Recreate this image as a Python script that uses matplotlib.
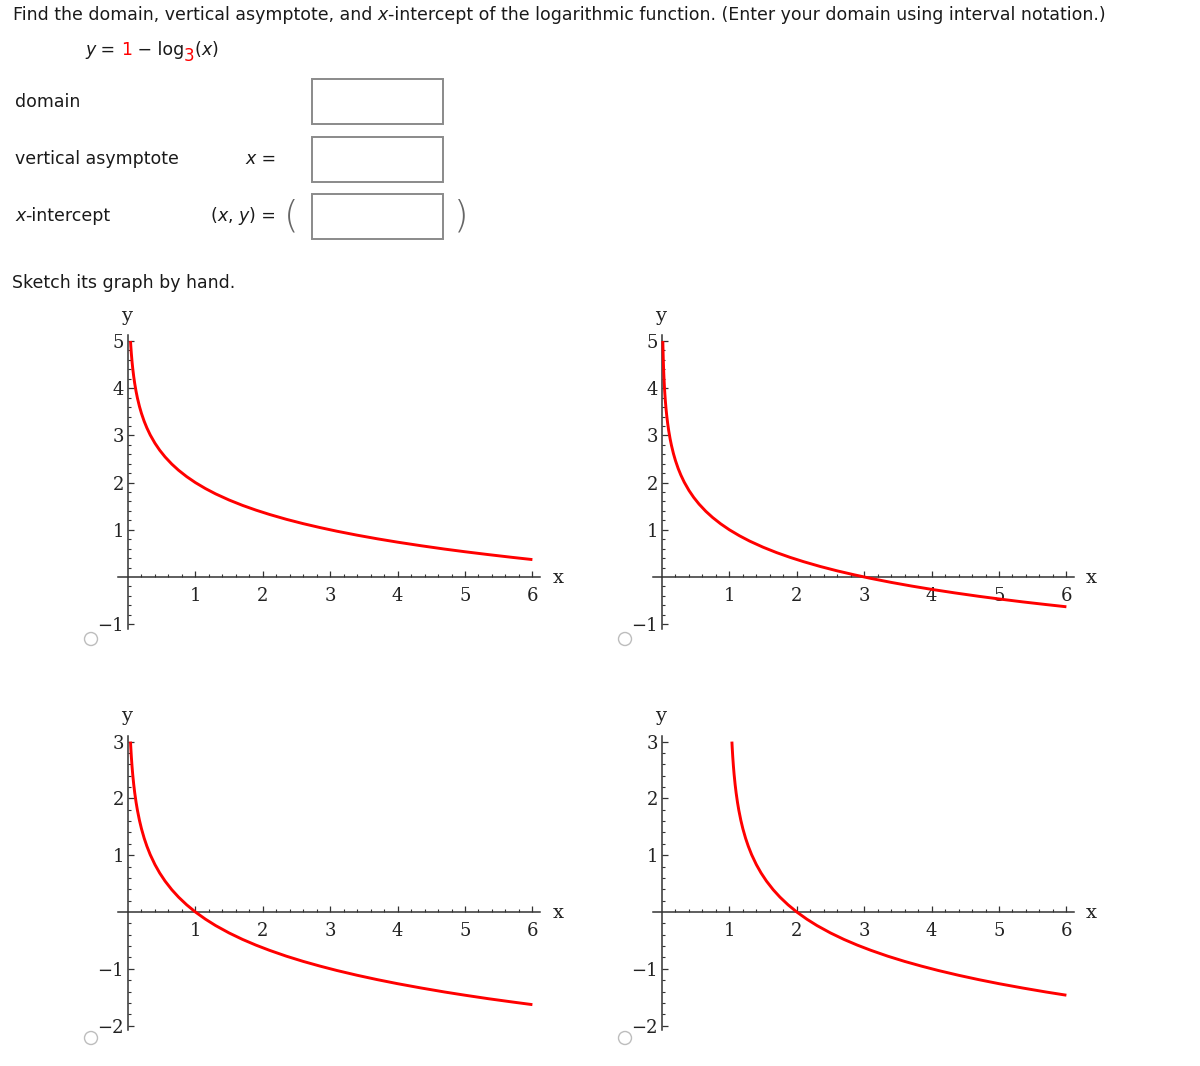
import matplotlib
matplotlib.use("Agg")
import matplotlib.pyplot as plt
from matplotlib.patches import Rectangle, Circle
import numpy as np

# ---------------- data ----------------
row_labels = ["domain", "vertical asymptote", "x-intercept"]
sketch_text = "Sketch its graph by hand."

x_major_ticks = [1, 2, 3, 4, 5, 6]
y_major_top = [-1, 1, 2, 3, 4, 5]
y_major_bottom = [-2, -1, 1, 2, 3]

# curve A (top-left)
curveA_x = [0.037, 0.042, 0.05, 0.06, 0.07, 0.085, 0.1, 0.12, 0.14, 0.17, 0.2, 0.24, 0.28,
            0.33, 0.4, 0.47, 0.55, 0.65, 0.75, 0.87, 1.0, 1.15, 1.3, 1.5, 1.7, 1.9, 2.1,
            2.35, 2.6, 2.85, 3.1, 3.4, 3.7, 4.0, 4.35, 4.7, 5.0, 5.35, 5.7, 6.0]
curveA_y = [5.000, 4.886, 4.727, 4.561, 4.421, 4.244, 4.096, 3.930, 3.790, 3.613, 3.465,
            3.299, 3.159, 3.009, 2.834, 2.687, 2.544, 2.392, 2.262, 2.127, 2.000, 1.873,
            1.761, 1.631, 1.517, 1.416, 1.325, 1.222, 1.130, 1.047, 0.970, 0.886, 0.809,
            0.738, 0.662, 0.591, 0.535, 0.474, 0.416, 0.369]

# curve B (top-right)
curveB_x = [0.0123, 0.015, 0.019, 0.024, 0.03, 0.037, 0.042, 0.05, 0.06, 0.07, 0.085, 0.1,
            0.12, 0.14, 0.17, 0.2, 0.24, 0.28, 0.33, 0.4, 0.47, 0.55, 0.65, 0.75, 0.87, 1.0,
            1.15, 1.3, 1.5, 1.7, 1.9, 2.1, 2.35, 2.6, 2.85, 3.1, 3.4, 3.7, 4.0, 4.35, 4.7,
            5.0, 5.35, 5.7, 6.0]
curveB_y = [5.000, 4.823, 4.608, 4.395, 4.192, 4.000, 3.886, 3.727, 3.561, 3.421, 3.244,
            3.096, 2.930, 2.790, 2.613, 2.465, 2.299, 2.159, 2.009, 1.834, 1.687, 1.544,
            1.392, 1.262, 1.127, 1.000, 0.873, 0.761, 0.631, 0.517, 0.416, 0.325, 0.222,
            0.130, 0.047, -0.030, -0.114, -0.191, -0.262, -0.338, -0.409, -0.465, -0.527,
            -0.584, -0.631]

# curve C (bottom-left)
curveC_x = [0.037, 0.042, 0.05, 0.06, 0.07, 0.085, 0.1, 0.12, 0.14, 0.17, 0.2, 0.24, 0.28,
            0.33, 0.4, 0.47, 0.55, 0.65, 0.75, 0.87, 1.0, 1.15, 1.3, 1.5, 1.7, 1.9, 2.1,
            2.35, 2.6, 2.85, 3.1, 3.4, 3.7, 4.0, 4.35, 4.7, 5.0, 5.35, 5.7, 6.0]
curveC_y = [3.000, 2.886, 2.727, 2.561, 2.421, 2.244, 2.096, 1.930, 1.790, 1.613, 1.465,
            1.299, 1.159, 1.009, 0.834, 0.687, 0.544, 0.392, 0.262, 0.127, 0.000, -0.127,
            -0.239, -0.369, -0.483, -0.584, -0.675, -0.778, -0.870, -0.953, -1.030, -1.114,
            -1.191, -1.262, -1.338, -1.409, -1.465, -1.527, -1.584, -1.631]

# curve D (bottom-right)
curveD_x = [1.037, 1.042, 1.05, 1.06, 1.07, 1.085, 1.1, 1.12, 1.14, 1.17, 1.2, 1.24, 1.28,
            1.33, 1.4, 1.47, 1.55, 1.65, 1.75, 1.87, 2.0, 2.15, 2.3, 2.5, 2.7, 2.9, 3.1,
            3.35, 3.6, 3.85, 4.1, 4.4, 4.7, 5.0, 5.35, 5.7, 6.0]
curveD_y = [3.000, 2.886, 2.727, 2.561, 2.421, 2.244, 2.096, 1.930, 1.790, 1.613, 1.465,
            1.299, 1.159, 1.009, 0.834, 0.687, 0.544, 0.392, 0.262, 0.127, 0.000, -0.127,
            -0.239, -0.369, -0.483, -0.584, -0.675, -0.778, -0.870, -0.953, -1.030, -1.114,
            -1.191, -1.262, -1.338, -1.409, -1.465]

# ---------------- figure ----------------
W, H = 1200, 1066
fig = plt.figure(figsize=(W / 100, H / 100), dpi=100)
fig.patch.set_facecolor("white")

ov = fig.add_axes([0, 0, 1, 1])
ov.set_xlim(0, W)
ov.set_ylim(H, 0)
ov.axis("off")
ov.set_zorder(0)

TXT = "#1a1a1a"
SANS = "DejaVu Sans"
FS = 12.5

renderer = fig.canvas.get_renderer()


def put_pieces(x0, yc, pieces, align_right=False):
    """Draw text pieces one after another starting at pixel x0."""
    arts = []
    x = x0
    for p in pieces:
        txt = p[0]
        kw = dict(fontsize=FS, family=SANS, color=TXT, ha="left", va="center")
        kw.update(p[1] if len(p) > 1 else {})
        dy = kw.pop("dy", 0)
        t = ov.text(x, yc + dy, txt, **kw)
        bb = t.get_window_extent(renderer=renderer)
        x += bb.width
        arts.append(t)
    if align_right:
        shift = x - x0
        for t in arts:
            px, py = t.get_position()
            t.set_position((px - shift, py))
    return x


# title
put_pieces(13, 15, [("Find the domain, vertical asymptote, and ", {}),
                    ("x", {"style": "italic"}),
                    ("-intercept of the logarithmic function. (Enter your domain using interval notation.)", {})])

# formula
put_pieces(85, 50, [("y", {"style": "italic"}), (" = ", {}), ("1", {"color": "#ff0000"}),
                    (" \u2212 log", {}), ("3", {"color": "#ff0000", "fontsize": 12, "dy": 6}),
                    ("(", {}), ("x", {"style": "italic"}), (")", {})])

# rows
put_pieces(15, 102, [(row_labels[0], {})])
put_pieces(15, 159, [(row_labels[1], {})])
put_pieces(15, 216, [("x", {"style": "italic"}), ("-intercept", {})])

put_pieces(276, 159, [("x", {"style": "italic"}), (" =", {})], align_right=True)
put_pieces(276, 216, [("(", {}), ("x", {"style": "italic"}), (", ", {}),
                      ("y", {"style": "italic"}), (") =", {})], align_right=True)
ov.text(291, 216, "(", fontsize=27, family=SANS, color="#666666", ha="center", va="center",
        fontweight="light")
ov.text(461, 216, ")", fontsize=27, family=SANS, color="#666666", ha="center", va="center",
        fontweight="light")

for (y0, y1) in [(79, 124), (137, 182), (194, 239)]:
    ov.add_patch(Rectangle((312, y0), 131, y1 - y0, facecolor="white",
                           edgecolor="#8a8a8a", lw=1.4))

put_pieces(12, 283, [(sketch_text, {})])

# radio circles
for (cx, cy) in [(91, 639), (625, 639), (91, 1038), (625, 1038)]:
    ov.add_patch(Circle((cx, cy), 6.5, facecolor="white", edgecolor="#bdbdbd", lw=1.0))

# ---------------- graphs ----------------
XS = 67.4  # px per x unit
AX = "#333333"
SERIF = "DejaVu Serif"
LBL = "#222222"


def make_graph(yaxis_px, xaxis_px, xlim, ylim, yscale, ymajors, cx, cy, ylab_xy, xlab_xy):
    left = yaxis_px + xlim[0] * XS
    width = (xlim[1] - xlim[0]) * XS
    top = xaxis_px - ylim[1] * yscale
    height = (ylim[1] - ylim[0]) * yscale
    ax = fig.add_axes([left / W, 1 - (top + height) / H, width / W, height / H])
    ax.set_zorder(1)
    ax.patch.set_alpha(0)
    ax.set_xlim(*xlim)
    ax.set_ylim(*ylim)
    for s in ["top", "right"]:
        ax.spines[s].set_visible(False)
    ax.spines["left"].set_position(("data", 0))
    ax.spines["bottom"].set_position(("data", 0))
    for s in ["left", "bottom"]:
        ax.spines[s].set_color(AX)
        ax.spines[s].set_linewidth(1.1)
    ax.set_xticks(x_major_ticks)
    xmin = [round(v, 1) for v in np.arange(0.2, 6.01, 0.2) if abs(v - round(v)) > 1e-6]
    ax.set_xticks(xmin, minor=True)
    ax.set_yticks(ymajors)
    ymin = [round(v, 1) for v in np.arange(ymajors[0], ymajors[-1] + 0.01, 0.2)
            if abs(v - round(v)) > 1e-6]
    ax.set_yticks(ymin, minor=True)
    ax.set_xticklabels([str(v) for v in x_major_ticks])
    ax.set_yticklabels([("\u2212" + str(-v)) if v < 0 else str(v) for v in ymajors])
    ax.tick_params(axis="both", which="major", direction="in", length=4.5, width=0.9,
                   color=AX, labelcolor=LBL, labelsize=13)
    ax.tick_params(axis="both", which="minor", direction="in", length=2.5, width=0.8, color=AX)
    ax.tick_params(axis="x", which="major", pad=7)
    ax.tick_params(axis="y", which="major", pad=3)
    for lab in ax.get_xticklabels() + ax.get_yticklabels():
        lab.set_family(SERIF)
    ax.plot(cx, cy, color="#ff0000", lw=2.1, zorder=3, solid_capstyle="butt",
            solid_joinstyle="round")
    ov.text(ylab_xy[0], ylab_xy[1], "y", family=SERIF, fontsize=14, color=LBL,
            ha="center", va="center")
    ov.text(xlab_xy[0], xlab_xy[1], "x", family=SERIF, fontsize=14, color=LBL,
            ha="center", va="center")
    return ax


make_graph(128, 577, (-0.15, 6.12), (-1.1, 5.13), 47.2, y_major_top, curveA_x, curveA_y,
           (127, 316), (558, 578))
make_graph(662, 577, (-0.14, 6.12), (-1.1, 5.13), 47.2, y_major_top, curveB_x, curveB_y,
           (661, 316), (1091, 578))
make_graph(128, 912, (-0.15, 6.12), (-2.08, 3.1), 56.8, y_major_bottom, curveC_x, curveC_y,
           (127, 716), (558, 913))
make_graph(662, 912, (-0.14, 6.12), (-2.08, 3.1), 56.8, y_major_bottom, curveD_x, curveD_y,
           (661, 716), (1091, 913))

fig.savefig("out.png", dpi=100, facecolor="white")
